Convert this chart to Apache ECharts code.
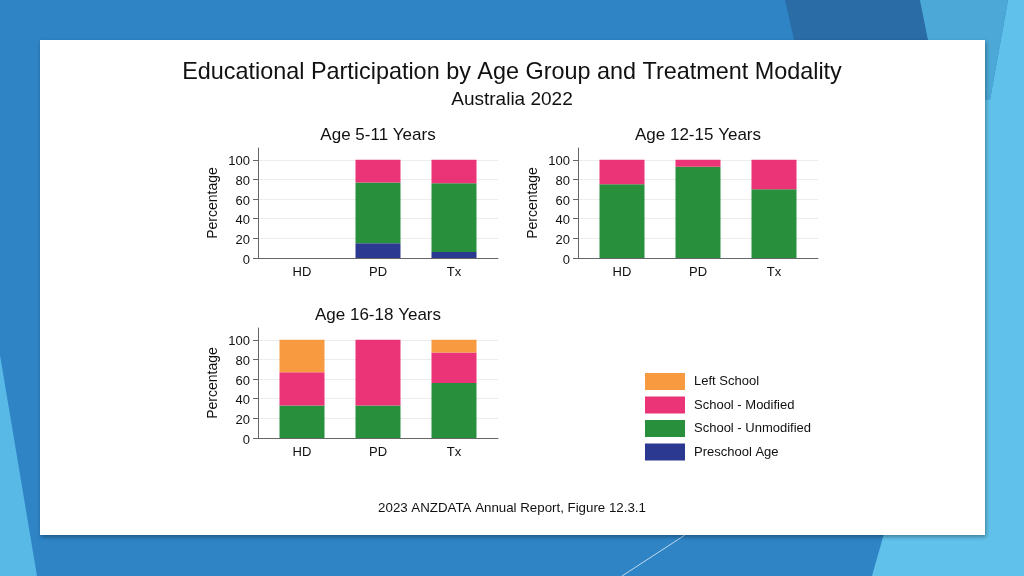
<!DOCTYPE html>
<html>
<head>
<meta charset="utf-8">
<script src="https://cdn.jsdelivr.net/npm/echarts@6/dist/echarts.min.js"></script>
<style>
html,body{margin:0;padding:0;width:1024px;height:576px;overflow:hidden;background:#2E84C5;}
#c{width:1024px;height:576px;}
</style>
</head>
<body>
<div id="c"></div>
<script>
// ---- data ----
const categories = ['HD', 'PD', 'Tx'];
const yTicks = [0, 20, 40, 60, 80, 100];
const layerNames = ['Preschool Age', 'School - Unmodified', 'School - Modified', 'Left School'];
const legendOrder = ['Left School', 'School - Modified', 'School - Unmodified', 'Preschool Age'];
const panelTitles = ['Age 5-11 Years', 'Age 12-15 Years', 'Age 16-18 Years'];

// Age 5-11 (HD: no data)
const age5_11_preschool  = [null, 15, 6];
const age5_11_unmodified = [null, 62, 70];
const age5_11_modified   = [null, 23, 24];
const age5_11_left       = [null, 0, 0];
// Age 12-15
const age12_15_preschool  = [0, 0, 0];
const age12_15_unmodified = [75, 93, 70];
const age12_15_modified   = [25, 7, 30];
const age12_15_left       = [0, 0, 0];
// Age 16-18
const age16_18_preschool  = [0, 0, 0];
const age16_18_unmodified = [33, 33, 56];
const age16_18_modified   = [34, 67, 31];
const age16_18_left       = [33, 0, 13];

const mainTitle = 'Educational Participation by Age Group and Treatment Modality';
const subTitle = 'Australia 2022';
const footer = '2023 ANZDATA Annual Report, Figure 12.3.1';

// ---- styles ----
const layerColors = {
  'Preschool Age': '#2B3990',
  'School - Unmodified': '#288F3C',
  'School - Modified': '#EB3477',
  'Left School': '#F89A40'
};
const FONT = 'Liberation Sans, Arial, sans-serif';
const panels = [
  { left: 258, top: 148, data: [age5_11_preschool, age5_11_unmodified, age5_11_modified, age5_11_left] },
  { left: 578, top: 148, data: [age12_15_preschool, age12_15_unmodified, age12_15_modified, age12_15_left] },
  { left: 258, top: 328, data: [age16_18_preschool, age16_18_unmodified, age16_18_modified, age16_18_left] }
];
const GW = 240, GH = 110, PAD = 6;
const YMAX = 112;

const grids = [], xAxes = [], yAxes = [], series = [], titles = [];

titles.push({ text: mainTitle, left: 'center', top: 61, padding: 0,
  textStyle: { fontFamily: FONT, fontSize: 23.4, fontWeight: 'normal', color: '#111' } });
titles.push({ text: subTitle, left: 'center', top: 90, padding: 0,
  textStyle: { fontFamily: FONT, fontSize: 19, fontWeight: 'normal', color: '#111' } });
titles.push({ text: footer, left: 'center', top: 502, padding: 0,
  textStyle: { fontFamily: FONT, fontSize: 13.3, fontWeight: 'normal', color: '#111' } });

panels.forEach((p, i) => {
  const frame = 2 * i, bars = 2 * i + 1;
  // frame grid: axis lines, y labels, split lines
  grids.push({ left: p.left, top: p.top, width: GW, height: GH });
  // bar grid: categories, slightly inset
  grids.push({ left: p.left + PAD, top: p.top, width: GW - 2 * PAD, height: GH });
  titles.push({ text: panelTitles[i], left: p.left + GW / 2, textAlign: 'center', top: p.top - 21, padding: 0,
    textStyle: { fontFamily: FONT, fontSize: 17, fontWeight: 'normal', color: '#111' } });

  xAxes.push({
    type: 'value', gridIndex: frame, min: 0, max: 1,
    axisLine: { show: true, onZero: false, lineStyle: { color: '#666', width: 1 } },
    axisTick: { show: false }, axisLabel: { show: false }, splitLine: { show: false }
  });
  yAxes.push({
    type: 'value', gridIndex: frame, min: 0, max: YMAX, interval: 20,
    name: 'Percentage', nameLocation: 'middle', nameGap: 38,
    nameTextStyle: { color: '#111', fontFamily: FONT, fontSize: 14 },
    axisLine: { show: true, lineStyle: { color: '#666', width: 1 } },
    axisTick: { show: true, length: 5, customValues: yTicks, lineStyle: { color: '#666' } },
    axisLabel: {
      margin: 8, customValues: yTicks,
      formatter: '{t|{value}}',
      rich: { t: { color: '#111', fontFamily: FONT, fontSize: 13, padding: [4, 0, 0, 0] } }
    },
    splitLine: { show: true, lineStyle: { color: ['#ECECEC', '#ECECEC', '#ECECEC', '#ECECEC', '#ECECEC', '#ECECEC', 'rgba(0,0,0,0)'], width: 1 } }
  });

  xAxes.push({
    type: 'category', gridIndex: bars, data: categories,
    axisLine: { show: false }, axisTick: { show: false },
    axisLabel: { color: '#111', fontFamily: FONT, fontSize: 13, margin: 8 }
  });
  yAxes.push({
    type: 'value', gridIndex: bars, min: 0, max: YMAX, interval: 20, show: false,
    splitLine: { show: false }
  });

  layerNames.forEach((name, k) => {
    series.push({
      type: 'bar', name: name, stack: 'p' + i, xAxisIndex: bars, yAxisIndex: bars,
      data: p.data[k], barWidth: 45,
      itemStyle: { color: layerColors[name] },
      emphasis: { disabled: true }
    });
  });
});

const chart = echarts.init(document.getElementById('c'), null, { renderer: 'canvas' });
chart.setOption({
  animation: false,
  backgroundColor: '#2E84C5',
  title: titles,
  grid: grids,
  xAxis: xAxes,
  yAxis: yAxes,
  legend: {
    data: legendOrder, orient: 'vertical', left: 645, top: 373, padding: 0,
    itemWidth: 40, itemHeight: 17, itemGap: 6.5, icon: 'rect', selectedMode: false,
    textStyle: { fontFamily: FONT, fontSize: 13, color: '#111', padding: [1, 0, 0, 4] }
  },
  graphic: [
    { type: 'polygon', z: -10, silent: true, shape: { points: [[785, 0], [920, 0], [960, 200], [830, 200]] }, style: { fill: '#2A6CA5' } },
    { type: 'polygon', z: -10, silent: true, shape: { points: [[1008, 0], [1024, 0], [1024, 576], [872, 576], [950, 300], [975, 100], [990, 100]] }, style: { fill: '#60C2EA' } },
    { type: 'polygon', z: -10, silent: true, shape: { points: [[920, 0], [1008, 0], [990, 100], [940, 100]] }, style: { fill: '#4CA8D6' } },
    { type: 'polygon', z: -10, silent: true, shape: { points: [[0, 355], [37, 576], [0, 576]] }, style: { fill: '#58B8E6' } },
    { type: 'line', z: -10, silent: true, shape: { x1: 622, y1: 576, x2: 685, y2: 535 }, style: { stroke: 'rgba(255,255,255,0.7)', lineWidth: 1 } },
    { type: 'rect', z: -5, silent: true, shape: { x: 40, y: 40, width: 945, height: 495 },
      style: { fill: '#FFFFFF', shadowBlur: 4, shadowOffsetX: 1, shadowOffsetY: 2, shadowColor: 'rgba(0,0,0,0.35)' } }
  ],
  series: series
});
</script>
</body>
</html>
